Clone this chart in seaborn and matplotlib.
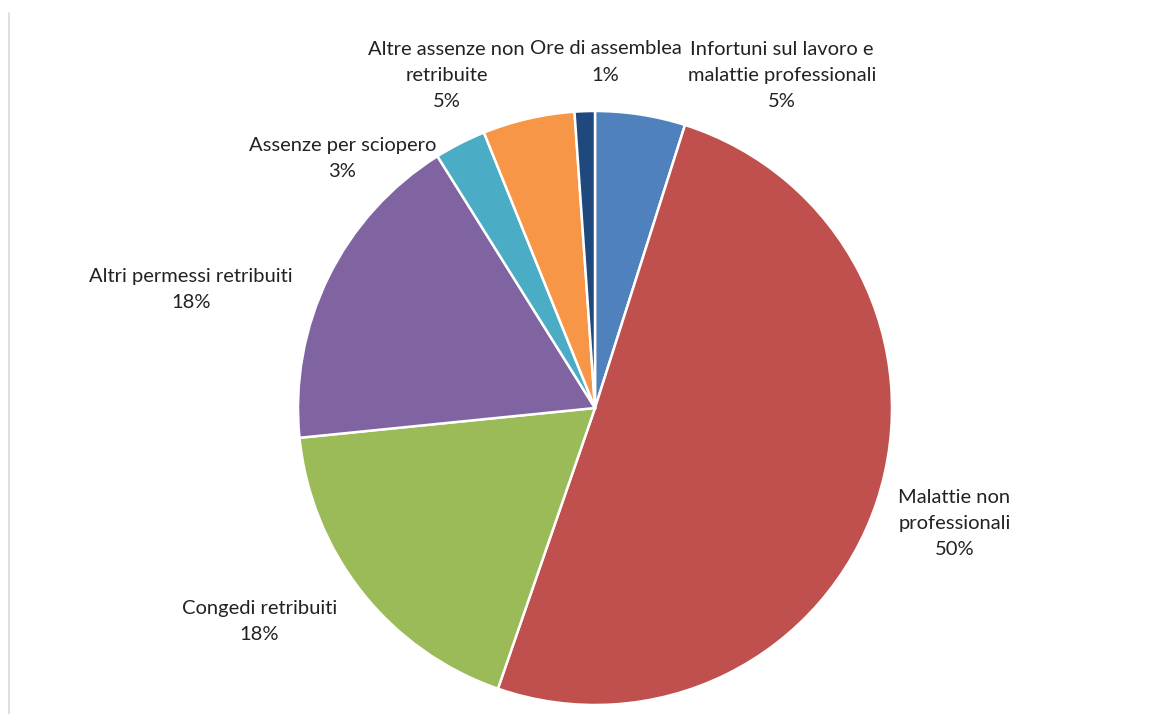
import matplotlib
matplotlib.use('Agg')
import matplotlib.pyplot as plt
import seaborn as sns
from matplotlib.lines import Line2D

# Data (clockwise from 12 o'clock)
categories = [
    'Infortuni sul lavoro e\nmalattie professionali',
    'Malattie non\nprofessionali',
    'Congedi retribuiti',
    'Altri permessi retribuiti',
    'Assenze per sciopero',
    'Altre assenze non\nretribuite',
    'Ore di assemblea',
]
shares = [4.9, 50.4, 18.1, 17.7, 2.8, 5.0, 1.1]
colors = ['#4F81BD', '#C0504D', '#9BBB59', '#8064A2', '#4BACC6', '#F79646', '#1F497D']

# label centres in pie-radius units (layout only)
label_pos = [(0.63, 1.12), (1.21, -0.39), (-1.13, -0.72), (-1.36, 0.40),
             (-0.85, 0.84), (-0.50, 1.12), (0.035, 1.165)]

sns.set_theme(style="white")
plt.rcParams['font.family'] = ['Lato', 'DejaVu Sans']

fig = plt.figure(figsize=(11.67, 7.14), dpi=100)
ax = fig.add_axes([0, 0, 1, 1])

r_px = 297
cx, cy = 595, 408
ax.pie(shares, colors=sns.color_palette(colors), startangle=90, counterclock=False,
       radius=1, wedgeprops=dict(edgecolor='white', linewidth=1.8))

total = sum(shares)
for name, val, (x, y) in zip(categories, shares, label_pos):
    ax.text(x, y, f'{name}\n{round(val / total * 100)}%', ha='center', va='center',
            fontsize=14.5, color='#222222', linespacing=1.65)

ax.set_xlim(-cx / r_px, (1167 - cx) / r_px)
ax.set_ylim(-(714 - cy) / r_px, cy / r_px)
ax.set_aspect('equal')
ax.axis('off')

# thin frame line on the left like the original chart area border
fig.add_artist(Line2D([9 / 1167, 9 / 1167], [0, 1 - 13 / 714], transform=fig.transFigure,
                      color='#D9D9D9', linewidth=1.2))

plt.savefig('out.png', dpi=100, facecolor='white')
